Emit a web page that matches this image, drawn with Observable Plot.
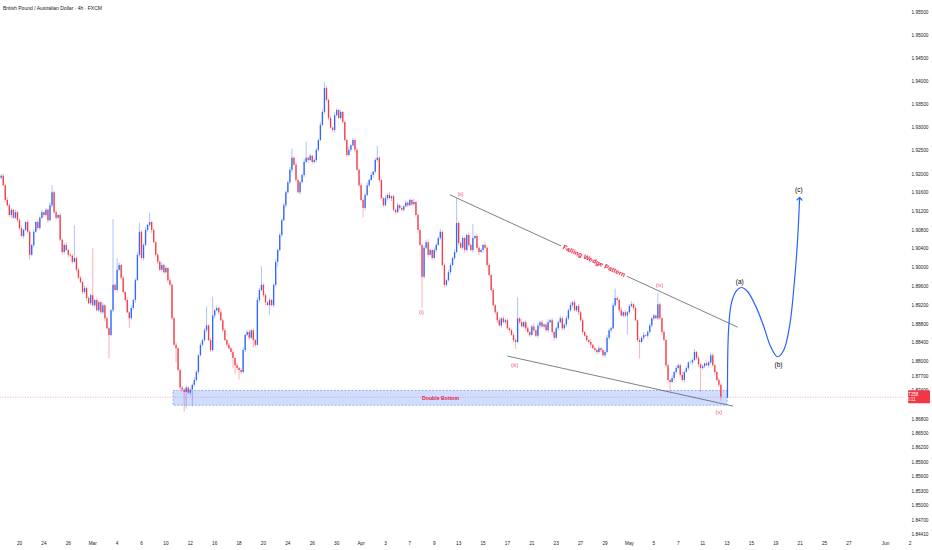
<!DOCTYPE html>
<html><head><meta charset="utf-8">
<script src="https://cdn.jsdelivr.net/npm/d3@7"></script>
<script src="https://cdn.jsdelivr.net/npm/@observablehq/plot@0.6"></script>
<style>
body{margin:0;background:#fff;}
#wrap{position:relative;width:932px;height:550px;overflow:hidden;}
#title{position:absolute;left:3px;top:5px;font:5px "Liberation Sans",Arial,sans-serif;color:#131722;white-space:nowrap;z-index:2;}
</style></head>
<body><div id="wrap"><div id="title">British Pound / Australian Dollar · 4h · FXCM</div></div>
<script>
// ---- data: 4h candles (bar index 0..355), closes; open = previous close
const firstOpen = 1.9185;
const closes = [
1.9191,1.9195,1.9175,1.9143,1.9132,1.9111,1.9122,1.9105,1.9117,1.9100,
1.9083,1.9066,1.9079,1.9096,1.9075,1.9026,1.9047,1.9075,1.9096,1.9083,
1.9105,1.9117,1.9111,1.9122,1.9100,1.9132,1.9160,1.9117,1.9105,1.9111,
1.9058,1.9032,1.9047,1.9036,1.9026,1.9024,1.9011,1.9019,1.8994,1.8977,
1.8968,1.8947,1.8955,1.8934,1.8923,1.8940,1.8919,1.8930,1.8908,1.8925,
1.8904,1.8919,1.8891,1.8870,1.8856,1.8908,1.8962,1.8951,1.8994,1.9004,
1.8977,1.8947,1.8930,1.8904,1.8891,1.8913,1.8930,1.8972,1.9026,1.9075,
1.9019,1.9047,1.9079,1.9090,1.9096,1.9079,1.9053,1.9026,1.9011,1.8994,
1.9004,1.8989,1.8998,1.8972,1.8962,1.8891,1.8835,1.8828,1.8782,1.8745,
1.8741,1.8736,1.8745,1.8734,1.8741,1.8751,1.8761,1.8778,1.8813,1.8835,
1.8845,1.8866,1.8876,1.8845,1.8824,1.8897,1.8908,1.8913,1.8904,1.8887,
1.8866,1.8845,1.8835,1.8828,1.8820,1.8807,1.8792,1.8786,1.8782,1.8778,
1.8824,1.8856,1.8862,1.8850,1.8866,1.8845,1.8835,1.8930,1.8951,1.8962,
1.8940,1.8925,1.8919,1.8930,1.8919,1.8962,1.9011,1.9036,1.9068,1.9100,
1.9132,1.9160,1.9181,1.9208,1.9234,1.9219,1.9186,1.9160,1.9181,1.9197,
1.9225,1.9234,1.9229,1.9238,1.9225,1.9229,1.9251,1.9272,1.9305,1.9333,
1.9385,1.9359,1.9320,1.9299,1.9294,1.9326,1.9337,1.9320,1.9333,1.9311,
1.9272,1.9240,1.9251,1.9261,1.9272,1.9251,1.9208,1.9175,1.9143,1.9126,
1.9154,1.9175,1.9186,1.9197,1.9204,1.9229,1.9234,1.9186,1.9147,1.9132,
1.9147,1.9154,1.9147,1.9151,1.9122,1.9117,1.9132,1.9126,1.9122,1.9130,
1.9137,1.9132,1.9143,1.9134,1.9139,1.9111,1.9079,1.9047,1.8979,1.9041,
1.9053,1.9026,1.9036,1.9019,1.9036,1.9047,1.9062,1.9075,1.9004,1.8962,
1.8972,1.8989,1.9004,1.9019,1.9032,1.9094,1.9051,1.9041,1.9062,1.9036,
1.9068,1.9047,1.9036,1.9062,1.9066,1.9041,1.9032,1.9036,1.9047,1.9041,
1.9004,1.8983,1.8951,1.8919,1.8904,1.8887,1.8876,1.8891,1.8883,1.8887,
1.8870,1.8866,1.8856,1.8845,1.8841,1.8891,1.8883,1.8874,1.8883,1.8870,
1.8862,1.8856,1.8874,1.8866,1.8854,1.8876,1.8883,1.8874,1.8878,1.8866,
1.8883,1.8887,1.8862,1.8850,1.8870,1.8883,1.8891,1.8870,1.8878,1.8891,
1.8908,1.8919,1.8925,1.8908,1.8917,1.8904,1.8887,1.8862,1.8854,1.8845,
1.8841,1.8835,1.8828,1.8824,1.8820,1.8828,1.8824,1.8813,1.8820,1.8850,
1.8866,1.8870,1.8919,1.8934,1.8930,1.8908,1.8897,1.8904,1.8897,1.8904,
1.8917,1.8921,1.8913,1.8887,1.8845,1.8841,1.8850,1.8856,1.8854,1.8862,
1.8876,1.8891,1.8897,1.8891,1.8921,1.8891,1.8862,1.8845,1.8792,1.8761,
1.8757,1.8765,1.8778,1.8786,1.8792,1.8772,1.8761,1.8778,1.8786,1.8798,
1.8798,1.8803,1.8820,1.8807,1.8794,1.8786,1.8790,1.8796,1.8792,1.8798,
1.8813,1.8792,1.8778,1.8761,1.8751,1.87258
];
// upper / lower wick lengths in pips (0.0001)
const upperWick = [
4,3,5,2,6,3,4,2,5,3,4,6,3,2,5,4,3,5,2,4,
3,5,2,4,3,6,15,3,4,2,5,3,4,6,2,3,4,70,3,5,
4,2,5,3,4,3,100,2,5,4,3,6,2,4,3,3,140,4,25,5,
3,4,2,5,3,6,2,4,5,20,3,4,6,2,20,3,5,2,4,3,
5,3,4,2,6,3,4,5,2,3,4,3,5,2,4,3,6,4,2,5,
3,4,40,2,5,40,3,4,2,6,3,5,2,4,3,4,2,5,3,4,
6,3,4,5,2,4,3,6,5,40,3,4,2,5,3,4,6,3,5,4,
5,3,4,6,20,3,5,2,4,3,6,35,3,4,2,5,4,3,6,5,
12,4,3,5,2,6,4,3,5,2,4,3,6,2,5,3,4,2,5,3,
4,6,3,5,2,4,25,3,4,2,5,3,6,2,4,3,5,2,4,3,
5,3,4,2,6,3,4,2,3,5,4,6,3,2,5,4,3,6,2,4,
3,5,4,2,6,53,4,3,5,2,4,6,3,30,2,5,3,4,2,5,
3,4,2,5,3,4,6,2,5,3,4,2,3,5,4,45,3,6,2,4,
5,3,4,6,2,4,3,5,2,4,6,3,5,2,4,3,6,4,2,5,
4,6,3,5,2,4,3,5,2,4,3,6,2,4,3,5,2,4,3,6,
4,3,5,20,4,3,6,2,5,3,4,6,3,5,2,4,3,6,2,4,
5,3,4,2,24,4,3,5,2,4,3,6,2,5,3,4,6,3,5,2,
4,3,6,2,5,3,4,2,6,3,5,4,3,2,4,3
];
const lowerWick = [
3,4,2,5,3,4,6,2,3,5,4,3,5,2,4,10,3,5,2,4,
4,2,5,3,6,2,4,3,5,2,3,6,4,2,5,3,4,2,5,3,
3,5,4,6,2,4,3,5,2,4,3,4,6,2,50,3,4,2,5,3,
4,3,5,2,20,3,4,6,2,4,3,5,2,4,3,6,2,4,5,3,
3,4,2,5,3,4,2,30,3,5,4,42,35,3,5,35,4,3,5,2,
4,3,5,2,4,3,6,2,5,3,4,2,5,3,6,20,18,4,20,5,
3,4,2,5,3,15,4,2,5,3,4,6,2,20,3,5,4,10,3,4,
2,5,3,4,6,2,4,3,5,2,4,3,6,2,4,3,5,4,2,3,
4,3,5,2,4,6,3,2,5,4,3,5,2,4,3,6,2,4,3,20,
5,3,4,2,6,3,4,5,2,4,3,5,2,6,3,4,2,5,3,4,
3,4,2,5,3,4,6,3,65,4,3,5,2,4,3,5,2,4,3,6,
4,3,5,2,4,3,5,2,4,6,3,4,2,5,3,4,6,2,5,3,
4,2,5,3,4,6,2,5,3,4,3,5,2,4,15,3,5,2,4,6,
3,4,2,5,3,4,6,2,4,3,5,2,4,6,3,5,2,4,3,5,
4,3,5,2,4,6,3,5,2,4,3,6,2,4,5,3,4,2,5,3,
4,5,2,4,3,5,2,4,3,40,4,3,5,2,4,35,3,5,2,4,
3,4,5,2,4,3,5,2,4,6,20,3,4,5,2,4,3,5,2,4,
3,5,2,4,6,50,3,4,2,5,3,4,6,3,4,8
];
const lastPrice = 1.87258;
const countdown = "36:11";

// x axis: bar index of each date label
const xTickBars = [10,22,34,46,58,70,82,94,106,118,130,142,154,166,178,190,202,214,226,238,250,262,274,286,298,310,322,334,346,358,370,382,394,406,418,436,448];
const xTickLabels = ["20","24","26","Mar","4","6","10","12","16","18","20","24","26","30","Apr","3","7","9","13","15","17","21","23","27","29","May","5","7","11","13","15","19","21","25","27","Jun","2"];
// y axis price labels
const yTicks = [1.955,1.95,1.945,1.94,1.935,1.93,1.925,1.92,1.916,1.912,1.908,1.904,1.90,1.896,1.892,1.888,1.884,1.88,1.877,1.874,1.868,1.865,1.862,1.859,1.856,1.853,1.85,1.847,1.8441];

// annotations (bar index, price)
const dbBox = [{x1: 85.75, x2: 358.25, y1: 1.8708, y2: 1.8739}];
const dbLabel = [{x: 217.1, y: 1.8723, text: "Double Bottom"}];
const wedgeLines = [
  {x1: 221.65, y1: 1.91554, x2: 363.3, y2: 1.88733},
  {x1: 250.05, y1: 1.88123, x2: 361.05, y2: 1.87072}
];
const wedgeLabel = [{x: 292.6, y: 1.90136, text: "Falling Wedge Pattern"}];
const waveLabels = [
  {x: 207.7, y: 1.89051, text: "(i)"},
  {x: 226.9, y: 1.9156, text: "(ii)"},
  {x: 253.5, y: 1.8794, text: "(iii)"},
  {x: 324.8, y: 1.89632, text: "(iv)"},
  {x: 353.97, y: 1.86944, text: "(v)"}
];
const abcLabels = [
  {x: 364.3, y: 1.89703, text: "(a)"},
  {x: 383.3, y: 1.8794, text: "(b)"},
  {x: 393.3, y: 1.91661, text: "(c)"}
];
const projection = [
  {x: 358.25, y: 1.87258},{x: 358.75, y: 1.8866},{x: 360.2, y: 1.8925},{x: 362.7, y: 1.8951},
  {x: 365.1, y: 1.89575},{x: 368.1, y: 1.8949},{x: 372.0, y: 1.8919},{x: 376.0, y: 1.8876},
  {x: 379.4, y: 1.8833},{x: 382.9, y: 1.8811},{x: 385.8, y: 1.8824},{x: 388.8, y: 1.8876},
  {x: 391.2, y: 1.8972},{x: 392.7, y: 1.9058},{x: 393.7, y: 1.9147}
];

// ---- build candle table
const UP = "#2962ff", DOWN = "#f23645";
const bars = closes.map((c, i) => {
  const o = i === 0 ? firstOpen : closes[i - 1];
  return {
    i, open: o, close: c,
    high: Math.max(o, c) + upperWick[i] * 0.0001,
    low: Math.min(o, c) - lowerWick[i] * 0.0001,
    color: c >= o ? UP : DOWN
  };
});
const labelOf = new Map(xTickBars.map((b, k) => [b, xTickLabels[k]]));
const font = "'Liberation Sans', Arial, sans-serif";

const plot = Plot.plot({
  width: 932, height: 550,
  marginLeft: 0, marginRight: 27, marginTop: 0, marginBottom: 12,
  x: {domain: [0.65, 445.8], axis: null},
  y: {type: "log", domain: [1.84318, 1.95769], axis: null},
  style: {background: "#ffffff", fontFamily: font, color: "#131722"},
  marks: [
    Plot.rect(dbBox, {x1: "x1", x2: "x2", y1: "y1", y2: "y2", fill: "#2962ff", fillOpacity: 0.22,
      stroke: "#7d97ee", strokeWidth: 0.7, strokeDasharray: "2,1.5"}),
    Plot.ruleY([lastPrice], {stroke: DOWN, strokeOpacity: 0.55, strokeWidth: 0.7, strokeDasharray: "1,1.5"}),
    Plot.ruleX(bars, {x: "i", y1: "low", y2: "high", stroke: "color", strokeWidth: 0.7, strokeOpacity: 0.55}),
    Plot.ruleX(bars, {x: "i", y1: "open", y2: "close", stroke: "color", strokeWidth: 1.35, strokeOpacity: 0.95}),
    Plot.link(wedgeLines, {x1: "x1", y1: "y1", x2: "x2", y2: "y2", stroke: "#5d5f66", strokeWidth: 0.8}),
    Plot.text(wedgeLabel, {x: "x", y: "y", text: "text", rotate: 24.7, fill: "#e8193f", fontSize: 6.5,
      fontWeight: "bold", stroke: "#ffffff", strokeWidth: 5, paintOrder: "stroke"}),
    Plot.text(dbLabel, {x: "x", y: "y", text: "text", fill: "#e8193f", fontSize: 5.2, fontWeight: 600}),
    Plot.text(waveLabels, {x: "x", y: "y", text: "text", fill: "#e8193f", fontSize: 5.5, fillOpacity: 0.85}),
    Plot.line(projection, {x: "x", y: "y", curve: "catmull-rom", stroke: UP, strokeWidth: 1.2, markerEnd: "arrow"}),
    Plot.text(abcLabels, {x: "x", y: "y", text: "text", fill: "#000000", fontSize: 6.5, fontWeight: 500}),
    Plot.axisX(xTickBars, {anchor: "bottom", tickSize: 0, tickPadding: 3, fontSize: 4.7,
      tickFormat: d => labelOf.get(d), fill: "#131722"}),
    Plot.axisY(yTicks, {anchor: "right", tickSize: 0, tickPadding: 6, fontSize: 4.7,
      tickFormat: d => d.toFixed(5), fill: "#131722", textAnchor: "start"})
  ]
});
document.getElementById("wrap").appendChild(plot);

// current price tag on the price scale
const svg = d3.select(plot);
const py = plot.scale("y").apply(lastPrice);
const tag = svg.append("g");
tag.append("rect").attr("x", 908).attr("y", py - 6.5).attr("width", 22).attr("height", 13)
  .attr("rx", 1).attr("fill", DOWN);
tag.append("text").attr("x", 910).attr("y", py - 1).attr("fill", "#fff")
  .attr("font-size", 4.7).attr("font-family", font).text(lastPrice.toFixed(5));
tag.append("text").attr("x", 910).attr("y", py + 4.5).attr("fill", "#fff")
  .attr("font-size", 4.7).attr("font-family", font).text(countdown);
</script>
</body></html>
